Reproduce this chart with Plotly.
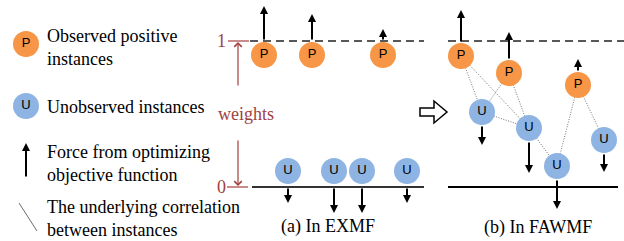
import plotly.graph_objects as go

# ---- data ----
legend_labels = ["Observed positive<br>instances", "Unobserved instances",
                 "Force from optimizing<br>objective function",
                 "The underlying correlation<br>between instances"]
legend_y = [47, 107, 163, 218]

# panel (a)
a_p_x = [264, 312, 383]
a_p_force_top = [6, 14, 29]
a_u_x = [288, 334, 362, 407]
a_u_force_bot = [203, 213, 213, 203]

# panel (b)
b_p_x = [461, 509, 578]
b_p_y = [56, 73, 85]
b_p_force_top = [10, 32, 59]
b_u_x = [482, 529, 557, 604]
b_u_y = [112, 128, 166, 140]
b_u_force_bot = [145, 173, 209, 172]
# correlation edges
b_edges = [("P0", "U0"), ("P0", "U1"), ("P1", "U0"), ("P1", "U1"),
           ("U0", "U1"), ("U1", "U2"), ("U2", "P2"), ("P2", "U3")]

y_one, y_zero = 41, 187
R = 13
ORANGE = "#F79646"
BLUE = "#8DB4E2"
RED = "#A0413F"
SERIF = "Liberation Serif, Times New Roman, serif"
SANS = "Liberation Sans, Arial, sans-serif"
FS = 18

fig = go.Figure()
shapes = []
ann = []

def arrow(x0, y0, x1, y1, color="black", w=2, head=2, size=0.8):
    ann.append(dict(x=x1, y=y1, ax=x0, ay=y0, xref="x", yref="y", axref="x", ayref="y",
                    showarrow=True, arrowhead=head, arrowsize=size, arrowwidth=w,
                    arrowcolor=color, text=""))

def line(x0, y0, x1, y1, color="black", w=1.5, dash="solid"):
    shapes.append(dict(type="line", x0=x0, y0=y0, x1=x1, y1=y1, xref="x", yref="y",
                       line=dict(color=color, width=w, dash=dash)))

def circles(xs, ys, label, color):
    fig.add_trace(go.Scatter(x=xs, y=ys, mode="markers+text", text=[label] * len(xs),
                             marker=dict(size=2 * R, color=color, line=dict(width=0)),
                             textposition="middle center",
                             textfont=dict(family=SANS, size=13, color="black"), hoverinfo="skip"))

# ---- legend ----
circles([26], [44], "P", ORANGE)
circles([26], [106], "U", BLUE)
arrow(26, 178, 26, 143)
line(19, 203, 37, 231, color="#444", w=0.8)
for lab, ly in zip(legend_labels, legend_y):
    ann.append(dict(x=45, y=ly, xref="x", yref="y", text=lab, showarrow=False,
                    xanchor="left", yanchor="middle", align="left",
                    font=dict(family=SERIF, size=FS, color="black")))

# ---- panel (a) ----
line(250, y_one, 424, y_one, color="#222", w=1.5, dash="8px,5px")
line(252, y_zero, 424, y_zero, color="#333", w=1.8)
line(228, y_one, 249, y_one, color=RED, w=1.2)
line(227, y_zero, 248, y_zero, color=RED, w=1.2)
arrow(238, 87, 238, y_one + 1, color=RED, w=1.2, head=4, size=1.2)
arrow(238, 139, 238, y_zero - 1, color=RED, w=1.2, head=4, size=1.2)
for t, yy in (("1", y_one), ("0", y_zero)):
    ann.append(dict(x=221, y=yy, xref="x", yref="y", text=t, showarrow=False,
                    xanchor="center", yanchor="middle", font=dict(family=SERIF, size=FS, color=RED)))
ann.append(dict(x=246, y=114, xref="x", yref="y", text="weights", showarrow=False,
                xanchor="center", yanchor="middle", font=dict(family=SERIF, size=FS, color=RED)))

for x, top in zip(a_p_x, a_p_force_top):
    arrow(x, y_one, x, top)
for x, bot in zip(a_u_x, a_u_force_bot):
    arrow(x, y_zero, x, bot)

circles(a_p_x, [y_one + R + 1] * len(a_p_x), "P", ORANGE)
circles(a_u_x, [y_zero - 16] * len(a_u_x), "U", BLUE)
ann.append(dict(x=328, y=226, xref="x", yref="y", text="(a) In EXMF", showarrow=False,
                xanchor="center", yanchor="middle", font=dict(family=SERIF, size=FS, color="black")))

# hollow arrow
shapes.append(dict(type="path", xref="x", yref="y",
                   path="M 420 108 L 434 108 L 434 101 L 447 112 L 434 123 L 434 116 L 420 116 Z",
                   fillcolor="white", line=dict(color="black", width=1.5)))

# ---- panel (b) ----
line(448, y_one, 624, y_one, color="#222", w=1.5, dash="8px,5px")
line(448, 187, 618, 187, color="black", w=1.8)

def node(k):
    i = int(k[1])
    return (b_p_x[i], b_p_y[i]) if k[0] == "P" else (b_u_x[i], b_u_y[i])

for a, b in b_edges:
    (x0, y0), (x1, y1) = node(a), node(b)
    fig.add_trace(go.Scatter(x=[x0, x1], y=[y0, y1], mode="lines",
                             line=dict(color="#555", width=0.8, dash="1px,1.5px"), hoverinfo="skip"))

for x, y, top in zip(b_p_x, b_p_y, b_p_force_top):
    arrow(x, y - R, x, top)
for x, y, bot in zip(b_u_x, b_u_y, b_u_force_bot):
    arrow(x, y + R, x, bot)

circles(b_p_x, b_p_y, "P", ORANGE)
circles(b_u_x, b_u_y, "U", BLUE)
ann.append(dict(x=538, y=227, xref="x", yref="y", text="(b) In FAWMF", showarrow=False,
                xanchor="center", yanchor="middle", font=dict(family=SERIF, size=FS, color="black")))

fig.update_layout(
    width=624, height=241, margin=dict(l=0, r=0, t=0, b=0),
    paper_bgcolor="white", plot_bgcolor="white", showlegend=False,
    xaxis=dict(range=[0, 624], visible=False, fixedrange=True),
    yaxis=dict(range=[241, 0], visible=False, fixedrange=True),
    shapes=shapes, annotations=ann,
)
fig.write_html("out.html", config={"displayModeBar": False},
               post_script="document.body.style.margin='0';document.body.style.overflow='hidden';")
